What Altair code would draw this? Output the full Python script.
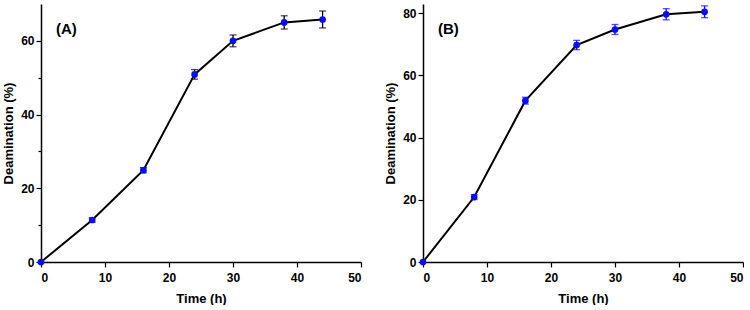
import altair as alt
import pandas as pd

# Sampling times (h)
time_h = [0, 8, 16, 24, 30, 38, 44]

# Panel A: deamination (%) mean and error
a_mean = [0, 11.4, 24.9, 50.9, 60.0, 65.0, 65.8]
a_err = [0, 0.6, 0.7, 1.3, 1.6, 1.8, 2.3]

# Panel B: deamination (%) mean and error
b_mean = [0, 20.9, 51.9, 69.8, 74.8, 79.7, 80.5]
b_err = [0, 0.8, 1.1, 1.5, 1.6, 1.8, 1.9]

x_ticks = [0, 5, 10, 15, 20, 25, 30, 35, 40, 45, 50]
a_y_ticks = [0, 10, 20, 30, 40, 50, 60]
b_y_ticks = [0, 10, 20, 30, 40, 50, 60, 70, 80]

FONT = "Liberation Sans"
BLUE = "#0a0aff"
W, H = 320, 258


def axis(values, title, major, label_pad, title_pad):
    return alt.Axis(
        values=values,
        title=title,
        grid=False,
        domainColor="black",
        domainWidth=1.5,
        tickColor="black",
        tickWidth=1.2,
        tickSize={"condition": {"test": f"datum.value % {major} === 0", "value": 5}, "value": 3},
        labelExpr=f"datum.value % {major} === 0 ? datum.label : ''",
        labelFont=FONT,
        labelFontSize=12,
        labelFontWeight="bold",
        labelColor="black",
        labelPadding=label_pad,
        titleFont=FONT,
        titleFontSize=13,
        titleFontWeight="bold",
        titleColor="black",
        titlePadding=title_pad,
    )


def panel(mean, err, y_max, y_ticks, label, bar_color):
    df = pd.DataFrame({"t": time_h, "m": mean, "e": err})
    df["lo"] = df["m"] - df["e"]
    df["hi"] = df["m"] + df["e"]

    x = alt.X("t:Q", scale=alt.Scale(domain=[0, 50], nice=False, zero=False),
              axis=axis(x_ticks, "Time (h)", 10, 5, 9))
    y_scale = alt.Scale(domain=[0, y_max], nice=False)
    y = alt.Y("m:Q", scale=y_scale, axis=axis(y_ticks, "Deamination (%)", 20, 2, 5))

    base = alt.Chart(df)
    line = base.mark_line(color="black", strokeWidth=2).encode(x=x, y=y)

    bars_df = base.transform_filter("datum.e > 0")
    rule = bars_df.mark_rule(color=bar_color, strokeWidth=1.3).encode(
        x="t:Q", y=alt.Y("lo:Q", scale=y_scale), y2="hi:Q")
    cap_lo = bars_df.mark_tick(color=bar_color, size=7, thickness=1.3, orient="horizontal").encode(
        x="t:Q", y=alt.Y("lo:Q", scale=y_scale))
    cap_hi = bars_df.mark_tick(color=bar_color, size=7, thickness=1.3, orient="horizontal").encode(
        x="t:Q", y=alt.Y("hi:Q", scale=y_scale))

    pts = base.mark_point(filled=True, color=BLUE, size=45, opacity=1).encode(x=x, y=y)

    tag = alt.Chart(pd.DataFrame({"txt": [label]})).mark_text(
        font=FONT, fontSize=15, fontWeight="bold", align="left", baseline="middle", color="black"
    ).encode(x=alt.value(15), y=alt.value(25), text="txt:N")

    return alt.layer(line, rule, cap_lo, cap_hi, pts, tag).properties(width=W, height=H)


left = panel(a_mean, a_err, 70, a_y_ticks, "(A)", "black")
right = panel(b_mean, b_err, 83, b_y_ticks, "(B)", BLUE)

chart = alt.hconcat(left, right, spacing=22).properties(
    padding={"left": 2, "top": 4, "right": 0, "bottom": 0},
    background="white",
).configure_view(stroke=None)

chart.save("out.html", embed_options={"renderer": "svg", "actions": False})
